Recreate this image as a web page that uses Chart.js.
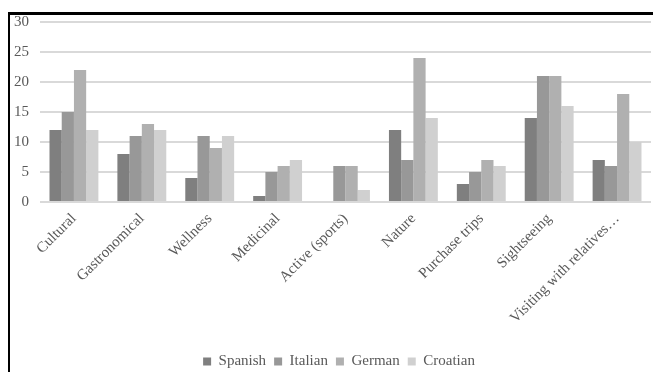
<!DOCTYPE html>
<html>
<head>
<meta charset="utf-8">
<script src="https://cdn.jsdelivr.net/npm/chart.js@4/dist/chart.umd.min.js"></script>
<style>
  html, body { margin: 0; padding: 0; background: #fff; }
  body { width: 653px; height: 372px; overflow: hidden; position: relative; }
  #topLine { position: absolute; left: 8px; top: 12px; width: 645px; height: 3px; background: #000; }
  #leftLine { position: absolute; left: 8px; top: 12px; width: 2px; height: 360px; background: #000; }
  #wrap { position: absolute; left: 10px; top: 2px; width: 643px; height: 377px; }
</style>
</head>
<body>
<div id="wrap"><canvas id="chart"></canvas></div>
<div id="topLine"></div>
<div id="leftLine"></div>
<script>
const categories = ['Cultural', 'Gastronomical', 'Wellness', 'Medicinal', 'Active (sports)',
  'Nature', 'Purchase trips', 'Sightseeing', 'Visiting with relatives\u2026'];
const spanish  = [12, 8, 4, 1, 0, 12, 3, 14, 7];
const italian  = [15, 11, 11, 5, 6, 7, 5, 21, 6];
const german   = [22, 13, 9, 6, 6, 24, 7, 21, 18];
const croatian = [12, 12, 11, 7, 2, 14, 6, 16, 10];
const yTicks = [0, 5, 10, 15, 20, 25, 30];

const textColor = '#595959';
const serif = "'Liberation Serif', 'DejaVu Serif', serif";

// nudge the legend a little to the right, like the original
const legendShift = {
  id: 'legendShift',
  afterLayout(chart) {
    if (chart.legend) chart.legend.left += 17;
  }
};

const ctx = document.getElementById('chart').getContext('2d');
new Chart(ctx, {
  type: 'bar',
  data: {
    labels: categories,
    datasets: [
      { label: 'Spanish', data: spanish, backgroundColor: '#7f7f7f' },
      { label: 'Italian', data: italian, backgroundColor: '#989898' },
      { label: 'German', data: german, backgroundColor: '#b0b0b0' },
      { label: 'Croatian', data: croatian, backgroundColor: '#d0d0d0' }
    ]
  },
  plugins: [legendShift],
  options: {
    responsive: true,
    maintainAspectRatio: false,
    animation: false,
    layout: { padding: { left: 0, right: 2, top: 0, bottom: 0 } },
    datasets: { bar: { categoryPercentage: 0.72, barPercentage: 1.0 } },
    plugins: {
      tooltip: { enabled: false },
      legend: {
        position: 'bottom',
        labels: {
          color: textColor,
          font: { family: serif, size: 15 },
          boxWidth: 8, boxHeight: 8,
          padding: 8
        }
      }
    },
    scales: {
      x: {
        grid: { display: false },
        border: { display: false },
        afterFit: axis => { axis.height = 144; },
        ticks: {
          color: textColor,
          font: { family: serif, size: 15 },
          minRotation: 45, maxRotation: 45,
          autoSkip: false,
          padding: 0
        }
      },
      y: {
        min: 0, max: 30,
        afterBuildTicks: axis => { axis.ticks = yTicks.map(v => ({ value: v })); },
        afterFit: axis => { axis.width = 30; },
        grid: { color: '#d9d9d9', lineWidth: 2, drawTicks: false },
        border: { display: false },
        ticks: {
          color: textColor,
          font: { family: serif, size: 15 },
          padding: 11
        }
      }
    }
  }
});
</script>
</body>
</html>
